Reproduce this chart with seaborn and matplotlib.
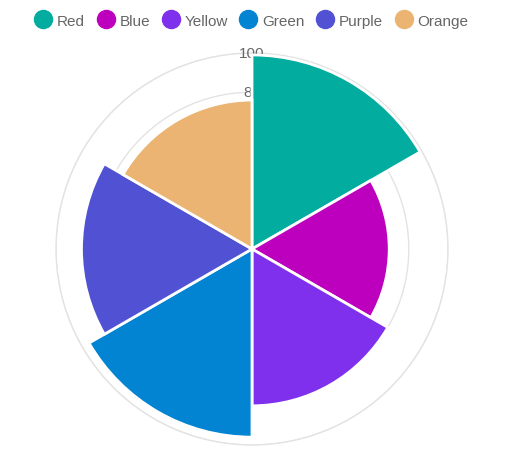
import numpy as np
import matplotlib
matplotlib.use("Agg")
import matplotlib.pyplot as plt
import seaborn as sns
from matplotlib.lines import Line2D

labels = ["Red", "Blue", "Yellow", "Green", "Purple", "Orange"]
values = [99, 70, 80, 96, 87, 76]
colors = ["#02ac9e", "#bd00bd", "#7f30ed", "#0284d3", "#5151d3", "#ecb472"]
r_ticks = [20, 40, 60, 80, 100]

sns.set_style("white")
plt.rcParams["font.family"] = ["Liberation Sans", "DejaVu Sans"]

fig = plt.figure(figsize=(5.16, 4.6), dpi=100)
ax = fig.add_axes([56 / 516, 14 / 460, 392 / 516, 392 / 460], projection="polar")
ax.set_theta_zero_location("N")
ax.set_theta_direction(-1)

n = len(values)
width = 2 * np.pi / n
theta = np.arange(n) * width
pal = sns.color_palette(colors)
ax.bar(theta, values, width=width, align="edge", color=pal,
       edgecolor="white", linewidth=2, zorder=2)

ax.set_ylim(0, 100)
ax.set_yticks(r_ticks)
ax.set_yticklabels([])
ax.set_xticks([])
ax.yaxis.grid(True, color="#e3e3e3", linewidth=1)
ax.xaxis.grid(False)
ax.set_axisbelow(True)
ax.spines["polar"].set_color("#e3e3e3")
ax.spines["polar"].set_linewidth(1)
ax.spines["polar"].set_zorder(0.5)

for t in r_ticks:
    ax.text(0, t, str(t), ha="center", va="center", fontsize=11,
            color="#666666", zorder=1)

handles = [Line2D([0], [0], marker="o", linestyle="", markersize=13,
                  markerfacecolor=c, markeredgecolor=c) for c in pal]
fig.legend(handles, labels, loc="upper center", bbox_to_anchor=(0.487, 0.998),
           ncol=n, frameon=False, fontsize=11, labelcolor="#666666",
           handletextpad=0.3, columnspacing=0.75, handlelength=1.2)

fig.savefig("out.png", dpi=100)
